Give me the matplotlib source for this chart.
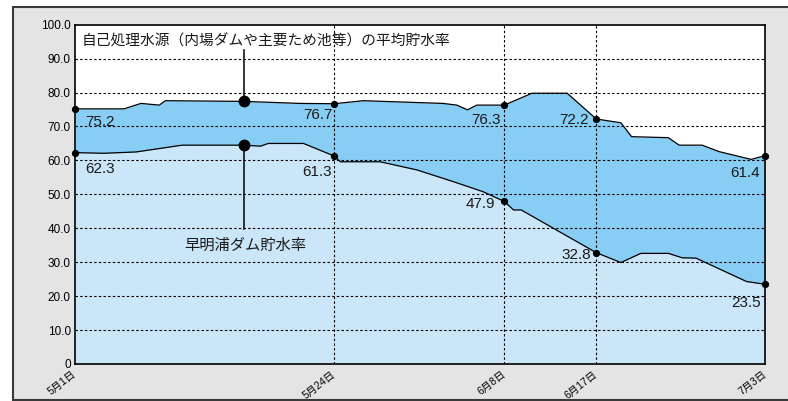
import numpy as np
import matplotlib
matplotlib.use("Agg")
import matplotlib.pyplot as plt
from matplotlib.patches import Rectangle
from matplotlib.transforms import ScaledTranslation

JP = ["Noto Sans CJK JP", "DejaVu Sans"]
NUM = ["Liberation Sans", "Noto Sans CJK JP"]

# observation index (business days from 5/1) and storage rate (%)
upper_x = [0, 3.2, 4.3, 5.5, 5.9, 11, 14.7, 16.9, 18.8, 24.0, 24.9, 25.6, 26.2, 28,
           29.8, 32.1, 34, 35.6, 36.3, 38.7, 39.4, 40.9, 42.0, 44.1, 45]
upper_y = [75.2, 75.2, 76.8, 76.3, 77.6, 77.4, 76.8, 76.7, 77.6, 76.8, 76.3, 74.9, 76.3, 76.3,
           79.8, 79.8, 72.2, 71.1, 67.0, 66.7, 64.5, 64.5, 62.6, 60.3, 61.4]

lower_x = [0, 1.85, 4.0, 7.0, 11, 12.1, 12.6, 14.9, 16.9, 17.3, 19.9, 22.3, 24.7, 26.6,
           28, 28.6, 29.1, 34, 35.6, 36.9, 38.7, 39.6, 40.5, 43.8, 45]
lower_y = [62.3, 62.1, 62.5, 64.5, 64.5, 64.2, 65.0, 65.0, 61.3, 59.6, 59.6, 57.2, 53.7, 50.8,
           47.9, 45.4, 45.4, 32.8, 29.9, 32.6, 32.6, 31.3, 31.2, 24.3, 23.5]

date_x = [0, 16.9, 28, 34, 45]
date_labels = ["5月1日", "5月24日", "6月8日", "6月17日", "7月3日"]
callout_x = 11

upper_name = "自己処理水源（内場ダムや主要ため池等）の平均貯水率"
lower_name = "早明浦ダム貯水率"

# label offsets in pixels (dx, dy, ha) for the marked points
upper_offsets = [(10, -13, "left"), (-2, -11, "right"), (-4, -15, "right"),
                 (-8, -1, "right"), (-5, -17, "right")]
lower_offsets = [(10, -16, "left"), (-2, -16, "right"), (-9, -3, "right"),
                 (-5, -2, "right"), (-4, -19, "right")]

C_LOW = "#cce6f9"
C_MID = "#88cdf3"


def main():
    fig = plt.figure(figsize=(7.88, 4.01), dpi=100)
    fig.patch.set_facecolor("white")

    # grey panel behind the chart
    fig.patches.append(Rectangle((12.7 / 788, 1.0 / 401), 1.0, 393.5 / 401,
                                 transform=fig.transFigure, facecolor="#e4e4e4",
                                 edgecolor="#3a3a3a", linewidth=1.5, zorder=-1))

    ax = fig.add_axes([75 / 788, 1 - 364 / 401, 690 / 788, 339.3 / 401])
    ax.set_facecolor("white")

    ux, uy = np.array(upper_x), np.array(upper_y)
    lx, ly = np.array(lower_x), np.array(lower_y)
    xs = np.union1d(ux, lx)

    ax.fill_between(lx, 0, ly, color=C_LOW, lw=0, zorder=1)
    ax.fill_between(xs, np.interp(xs, lx, ly), np.interp(xs, ux, uy), color=C_MID, lw=0, zorder=1)

    # grid
    for v in range(10, 100, 10):
        ax.axhline(v, color="black", lw=0.8, ls=(0, (2.2, 2)), zorder=2)
    for d in date_x[1:-1]:
        ax.axvline(d, color="black", lw=0.8, ls=(0, (2.2, 2)), zorder=2)

    ax.plot(ux, uy, color="black", lw=0.9, zorder=3)
    ax.plot(lx, ly, color="black", lw=0.9, zorder=3)

    # marked points with values
    for xs_line, ys_line, offs in ((ux, uy, upper_offsets), (lx, ly, lower_offsets)):
        vals = np.interp(date_x, xs_line, ys_line)
        ax.plot(date_x, vals, "o", color="black", ms=4.2, zorder=4, clip_on=False)
        for x, v, (dx, dy, ha) in zip(date_x, vals, offs):
            ax.annotate(f"{v:.1f}", (x, v), xytext=(dx, dy), textcoords="offset pixels",
                        ha=ha, va="center", fontsize=11, family=NUM, color="#1a1a1a", zorder=5)

    # callouts
    cu = np.interp(callout_x, ux, uy)
    cl = np.interp(callout_x, lx, ly)
    ax.plot([callout_x, callout_x], [92.5, cu], color="black", lw=1.1, zorder=3)
    ax.plot([callout_x, callout_x], [cl, 39.8], color="black", lw=1.1, zorder=3)
    ax.plot([callout_x, callout_x], [cu, cl], "o", color="black", ms=7.5, zorder=4)
    ax.text(0.0095, 0.950, upper_name, transform=ax.transAxes, ha="left", va="center",
            fontsize=10.6, family=JP, color="#1a1a1a", zorder=5)
    ax.text(0.247, 0.351, lower_name, transform=ax.transAxes, ha="center", va="center",
            fontsize=11, family=JP, color="#1a1a1a", zorder=5)

    ax.set_xlim(0, 45)
    ax.set_ylim(0, 100)
    ax.set_yticks(range(0, 101, 10))
    ax.set_yticklabels(["0"] + [f"{v:.1f}" for v in range(10, 101, 10)], family=NUM, fontsize=8.5)
    ax.set_xticks(date_x)
    ax.set_xticklabels(date_labels, family=NUM, fontsize=7.5, rotation=38, ha="right",
                       va="center", rotation_mode="anchor")
    shift = ScaledTranslation(5 / 100, 0, fig.dpi_scale_trans)
    for lab in ax.get_xticklabels():
        lab.set_transform(lab.get_transform() + shift)
    ax.tick_params(axis="y", length=0, pad=3)
    ax.tick_params(axis="x", length=0, pad=6.5)
    for s in ax.spines.values():
        s.set_color("black")
        s.set_linewidth(1.2)
        s.set_zorder(6)

    fig.savefig("out.png", dpi=100)


if __name__ == "__main__":
    main()
